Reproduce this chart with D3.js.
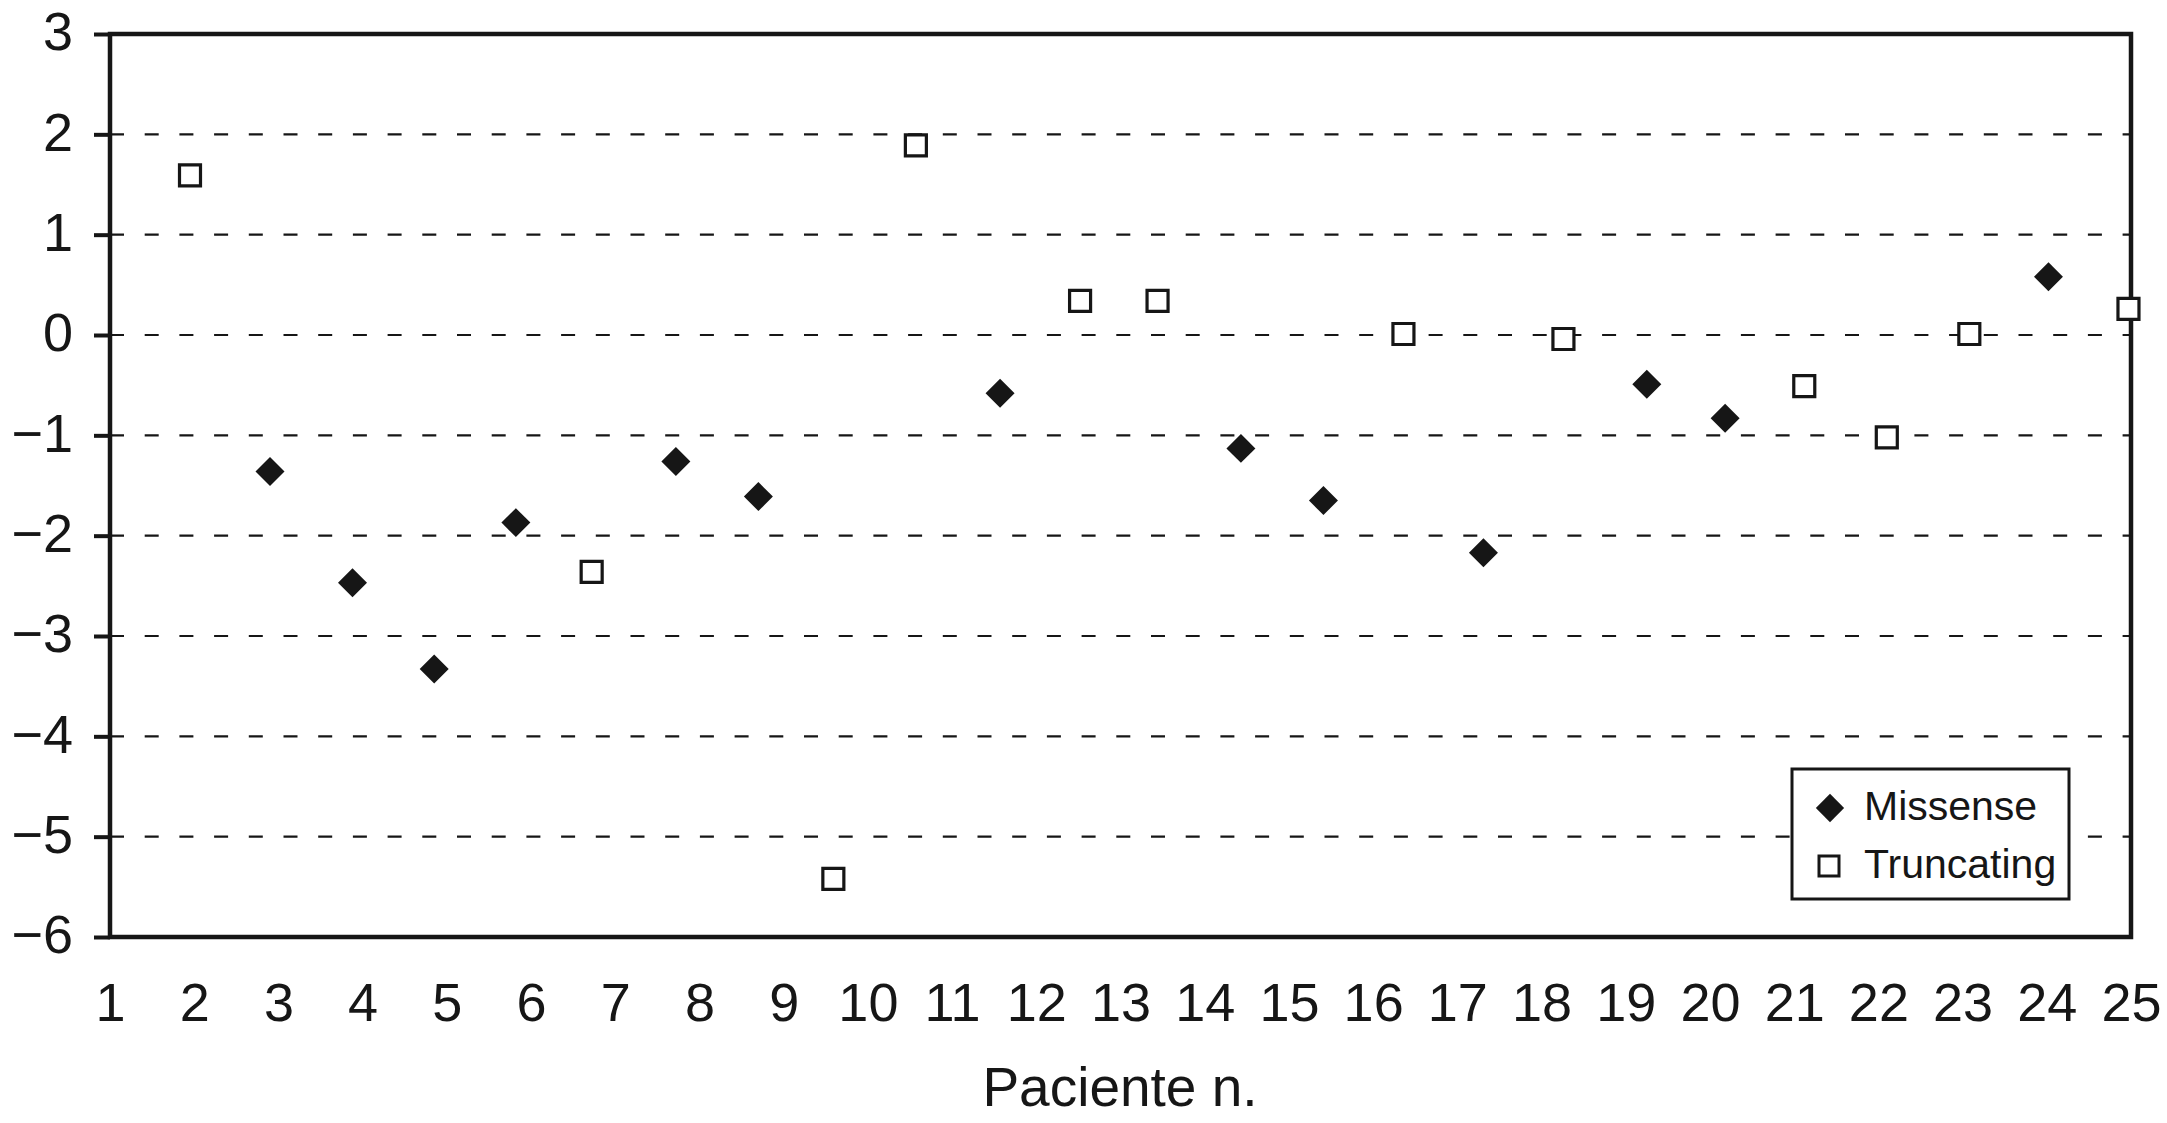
<!DOCTYPE html>
<html>
<head>
<meta charset="utf-8">
<script src="https://cdn.jsdelivr.net/npm/d3@7"></script>
<style>
  html, body { margin: 0; padding: 0; background: #fff; }
  svg { display: block; }
  text { font-family: "Liberation Sans", Arial, sans-serif; fill: #161616; }
</style>
</head>
<body>
<svg id="chart" width="2167" height="1123"></svg>
<script>
// ---- data ----
const patientTicks = [1,2,3,4,5,6,7,8,9,10,11,12,13,14,15,16,17,18,19,20,21,22,23,24,25];
const yTicks = [-6,-5,-4,-3,-2,-1,0,1,2,3];
// horizontal positions of the points as they sit on the patient axis
const xPositions = [1.95,2.90,3.88,4.85,5.82,6.72,7.72,8.70,9.59,10.57,11.57,12.52,13.44,
                    14.43,15.41,16.36,17.31,18.26,19.25,20.18,21.12,22.10,23.08,24.02,24.97];
const values = [1.59,-1.36,-2.47,-3.33,-1.87,-2.36,-1.26,-1.61,-5.42,1.89,-0.58,0.34,0.34,
                -1.13,-1.65,0.01,-2.17,-0.04,-0.49,-0.83,-0.51,-1.02,0.01,0.58,0.26];
const mutationType = ["T","M","M","M","M","T","M","M","T","T","M","T","T",
                      "M","M","T","M","T","M","M","T","T","T","M","T"];
const seriesNames = { M: "Missense", T: "Truncating" };
const xTitle = "Paciente n.";

(function () {
// ---- layout ----
const ink = "#161616";
const pL = 110, pR = 2131, pT = 34, pB = 937;
const svg = d3.select("#chart");

const x = d3.scaleLinear().domain([1, 25]).range([pL, pR]);
const y = d3.scaleLinear().domain([-6, 3]).range([pB, pT]);

// dashed grid
svg.append("g").selectAll("line")
  .data(yTicks.filter(v => v > -6 && v < 3))
  .join("line")
  .attr("x1", pL).attr("x2", pR)
  .attr("y1", d => y(d)).attr("y2", d => y(d))
  .attr("stroke", ink).attr("stroke-width", 2.2)
  .attr("stroke-dasharray", "14 20.7");

// y axis
const yAxis = svg.append("g")
  .attr("transform", `translate(${pL},0)`)
  .call(d3.axisLeft(y).tickValues(yTicks).tickSize(16).tickPadding(21).tickFormat(d3.format("d")));
yAxis.select(".domain").remove();
yAxis.selectAll(".tick line").attr("stroke", ink).attr("stroke-width", 4);
yAxis.selectAll(".tick text")
  .style("font-family", '"Liberation Sans", Arial, sans-serif')
  .style("font-size", "54px").attr("fill", ink).attr("dy", "0.29em");

// x axis (labels only)
const xAxis = svg.append("g")
  .attr("transform", `translate(0,${pB})`)
  .call(d3.axisBottom(x).tickValues(patientTicks).tickSize(0).tickPadding(46).tickFormat(d3.format("d")));
xAxis.select(".domain").remove();
xAxis.selectAll(".tick text")
  .style("font-family", '"Liberation Sans", Arial, sans-serif')
  .style("font-size", "54px").attr("fill", ink);

// frame
svg.append("rect")
  .attr("x", pL).attr("y", pT)
  .attr("width", pR - pL).attr("height", pB - pT)
  .attr("fill", "none").attr("stroke", ink).attr("stroke-width", 4.5);

// axis title
svg.append("text")
  .attr("x", 1120).attr("y", 1106)
  .attr("text-anchor", "middle")
  .style("font-size", "55px")
  .text(xTitle);

// markers
const diamondPath = d3.symbol(d3.symbolSquare, 420)();
const squarePath = d3.symbol(d3.symbolSquare, 441)();
const points = xPositions.map((xv, i) => ({ x: xv, y: values[i], t: mutationType[i] }));

svg.append("g").selectAll("path")
  .data(points)
  .join("path")
  .attr("transform", d => d.t === "M"
      ? `translate(${x(d.x)},${y(d.y)}) rotate(45)`
      : `translate(${x(d.x)},${y(d.y)})`)
  .attr("d", d => d.t === "M" ? diamondPath : squarePath)
  .attr("fill", d => d.t === "M" ? ink : "#fff")
  .attr("stroke", ink)
  .attr("stroke-width", d => d.t === "M" ? 0 : 3.2);

// legend
const lg = svg.append("g");
lg.append("rect")
  .attr("x", 1792).attr("y", 769).attr("width", 277).attr("height", 130)
  .attr("fill", "#fff").attr("stroke", ink).attr("stroke-width", 3);
const legendItems = [
  { t: "M", cy: 808, ty: 820 },
  { t: "T", cy: 866, ty: 878 }
];
lg.selectAll("path.lm").data(legendItems).join("path")
  .attr("class", "lm")
  .attr("transform", d => d.t === "M" ? `translate(1830,${d.cy}) rotate(45)` : `translate(1829,${d.cy})`)
  .attr("d", d3.symbol(d3.symbolSquare, 400)())
  .attr("fill", d => d.t === "M" ? ink : "#fff")
  .attr("stroke", ink)
  .attr("stroke-width", d => d.t === "M" ? 0 : 3);
lg.selectAll("text").data(legendItems).join("text")
  .attr("x", 1864).attr("y", d => d.ty)
  .style("font-size", "41px")
  .text(d => seriesNames[d.t]);
})();
</script>
</body>
</html>
